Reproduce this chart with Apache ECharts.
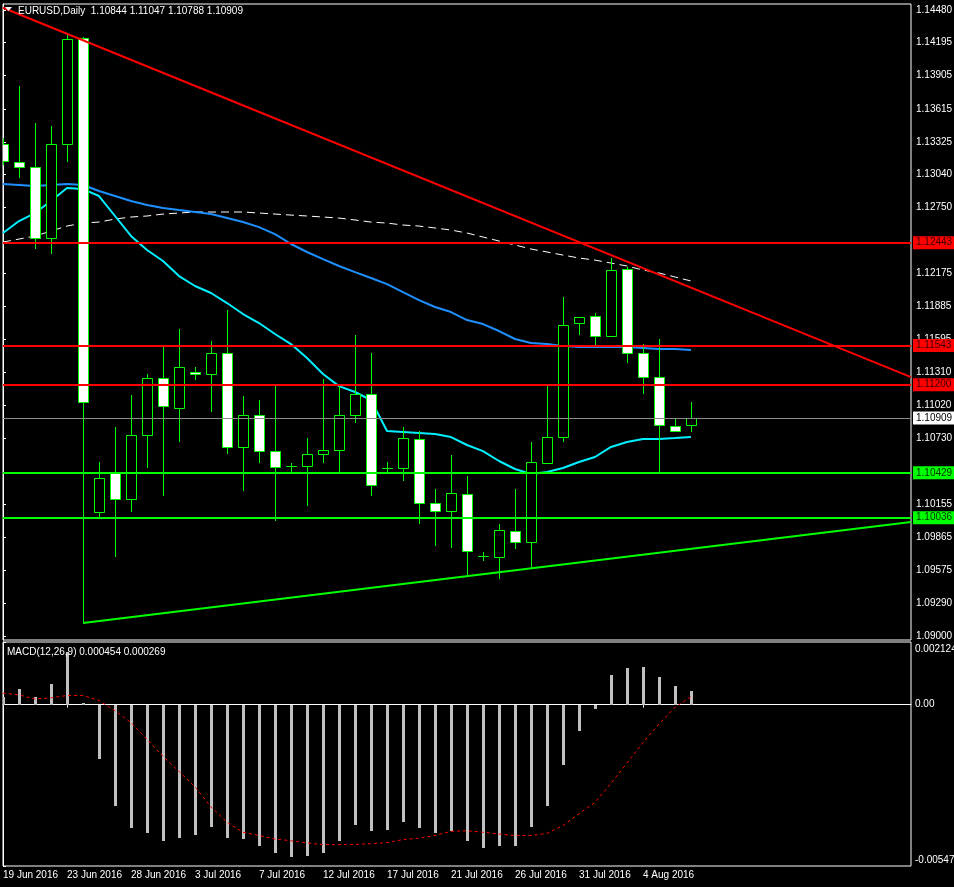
<!DOCTYPE html>
<html>
<head>
<meta charset="utf-8">
<script src="https://cdn.jsdelivr.net/npm/echarts@6/dist/echarts.min.js"></script>
<style>
html,body{margin:0;padding:0;background:#000;}
#chart{width:954px;height:887px;}
</style>
</head>
<body>
<div id="chart"></div>
<script>
const symbolName = 'EURUSD,Daily';
const dates = ['19 Jun 2016','20 Jun 2016','21 Jun 2016','22 Jun 2016','23 Jun 2016','24 Jun 2016','26 Jun 2016','27 Jun 2016','28 Jun 2016','29 Jun 2016','30 Jun 2016','1 Jul 2016','3 Jul 2016','4 Jul 2016','5 Jul 2016','6 Jul 2016','7 Jul 2016','8 Jul 2016','10 Jul 2016','11 Jul 2016','12 Jul 2016','13 Jul 2016','14 Jul 2016','15 Jul 2016','17 Jul 2016','18 Jul 2016','19 Jul 2016','20 Jul 2016','21 Jul 2016','22 Jul 2016','24 Jul 2016','25 Jul 2016','26 Jul 2016','27 Jul 2016','28 Jul 2016','29 Jul 2016','31 Jul 2016','1 Aug 2016','2 Aug 2016','3 Aug 2016','4 Aug 2016','5 Aug 2016','7 Aug 2016','8 Aug 2016'];
const opens  = [1.13307,1.13152,1.13103,1.12481,1.13304,1.14232,1.10083,1.10438,1.10197,1.10762,1.11256,1.10993,1.11314,1.11291,1.11475,1.10652,1.10932,1.10617,1.10490,1.10486,1.10590,1.10625,1.10932,1.11116,1.10473,1.10468,1.10722,1.10162,1.10091,1.10240,1.09697,1.09694,1.09916,1.09825,1.10517,1.10739,1.11737,1.11799,1.11623,1.12213,1.11475,1.11265,1.10836,1.10844];
const highs  = [1.13359,1.13815,1.13488,1.13465,1.14276,1.14240,1.10520,1.10829,1.11107,1.11293,1.11530,1.11687,1.11355,1.11582,1.11854,1.11098,1.11066,1.11197,1.10514,1.10733,1.11250,1.11195,1.11635,1.11477,1.10520,1.10829,1.10794,1.10287,1.10584,1.10401,1.09733,1.09978,1.10287,1.10696,1.11188,1.11968,1.11795,1.11825,1.12309,1.12230,1.11553,1.11597,1.10906,1.11047];
const lows   = [1.13123,1.13009,1.12390,1.12347,1.13152,1.09111,1.10035,1.09694,1.10088,1.10473,1.10228,1.10701,1.11244,1.10963,1.10596,1.10272,1.10512,1.10009,1.10427,1.10141,1.10512,1.10424,1.10867,1.10228,1.10427,1.10360,1.09983,1.09790,1.09773,1.09537,1.09656,1.09499,1.09764,1.09592,1.10508,1.10701,1.11635,1.11532,1.11615,1.11392,1.11121,1.10438,1.10783,1.10788];
const closes = [1.13158,1.13106,1.12481,1.13304,1.14224,1.11046,1.10380,1.10197,1.10757,1.11256,1.11016,1.11352,1.11291,1.11475,1.10652,1.10932,1.10617,1.10477,1.10492,1.10590,1.10625,1.10932,1.11116,1.10319,1.10475,1.10731,1.10162,1.10091,1.10249,1.09741,1.09699,1.09925,1.09825,1.10520,1.10739,1.11720,1.11790,1.11623,1.12204,1.11475,1.11265,1.10844,1.10792,1.10909];
const maFast = [1.12528,1.12633,1.12703,1.12808,1.12922,1.12913,1.12852,1.12677,1.12502,1.12379,1.12283,1.12151,1.12064,1.12003,1.11915,1.11819,1.11740,1.11644,1.11556,1.11434,1.11294,1.11188,1.11136,1.11066,1.10795,1.10786,1.10777,1.10768,1.10742,1.10672,1.10619,1.10532,1.10462,1.10418,1.10436,1.10471,1.10523,1.10567,1.10655,1.10698,1.10725,1.10725,1.10733,1.10742];
const maMid  = [1.12957,1.12948,1.12939,1.12948,1.12957,1.12948,1.12896,1.12852,1.12808,1.12773,1.12747,1.12729,1.12712,1.12694,1.12659,1.12624,1.12580,1.12519,1.12432,1.12362,1.12300,1.12239,1.12186,1.12134,1.12081,1.12011,1.11941,1.11880,1.11836,1.11766,1.11731,1.11670,1.11600,1.11565,1.11556,1.11539,1.11530,1.11530,1.11530,1.11530,1.11521,1.11512,1.11512,1.11504];
const maSlow = [1.12449,1.12475,1.12502,1.12545,1.12589,1.12615,1.12624,1.12650,1.12668,1.12677,1.12694,1.12703,1.12712,1.12712,1.12712,1.12712,1.12703,1.12694,1.12685,1.12677,1.12668,1.12659,1.12642,1.12624,1.12615,1.12598,1.12589,1.12572,1.12554,1.12528,1.12493,1.12458,1.12423,1.12388,1.12362,1.12335,1.12309,1.12291,1.12265,1.12239,1.12204,1.12178,1.12143,1.12108];
const macdHist = [0.00025,0.00054,0.00025,0.00071,0.00180,0.00006,-0.00185,-0.00344,-0.00420,-0.00437,-0.00464,-0.00451,-0.00444,-0.00416,-0.00454,-0.00457,-0.00481,-0.00505,-0.00516,-0.00512,-0.00502,-0.00461,-0.00409,-0.00430,-0.00426,-0.00399,-0.00420,-0.00437,-0.00430,-0.00461,-0.00485,-0.00481,-0.00478,-0.00416,-0.00344,-0.00206,-0.00089,-0.00014,0.00099,0.00123,0.00126,0.00092,0.00064,0.000454];
const macdSignal = [0.00039,0.00033,0.00019,0.00023,0.00031,0.00031,0.00014,-0.00021,-0.00061,-0.00118,-0.00175,-0.00227,-0.00279,-0.00347,-0.00399,-0.00433,-0.00444,-0.00456,-0.00462,-0.00469,-0.00475,-0.00475,-0.00474,-0.00472,-0.00468,-0.00458,-0.00453,-0.00444,-0.00430,-0.00428,-0.00433,-0.00439,-0.00444,-0.00444,-0.00437,-0.00410,-0.00370,-0.00332,-0.00267,-0.00198,-0.00129,-0.00066,-0.00009,0.000269];
const resistanceLevels = [1.12443, 1.11543, 1.11200];
const supportLevels = [1.10429, 1.10036];
const bidLevel = 1.10909;
const trendDown = [[0, 1.14500], [56.75, 1.11267]];
const trendUp = [[5, 1.09114], [56.75, 1.09998]];
const priceTicks = [1.14480,1.14195,1.13905,1.13615,1.13325,1.13040,1.12750,1.12175,1.11885,1.11595,1.11310,1.11020,1.10730,1.10155,1.09865,1.09575,1.09290,1.09000];
const macdTicks = [0.002124, 0, -0.005475];
const dateTickEvery = 4;

const FONT = "'Liberation Sans', Arial, sans-serif";
const FS = 10;
const n = dates.length;
const dateTicks = [];
for (let i = 0; i < n; i += dateTickEvery) dateTicks.push(i);
const last = n - 1;
const headerText = symbolName + '  ' + [opens[last], highs[last], lows[last], closes[last]].map(v => v.toFixed(5)).join(' ');
const macdText = 'MACD(12,26,9) ' + macdHist[last].toFixed(6) + ' ' + macdSignal[last].toFixed(6);

const candleData = opens.map((o, i) => [i, o, closes[i], lows[i], highs[i]]);
const toXY = arr => arr.map((v, i) => [i, v]);

function renderCandle(params, api) {
  const i = api.value(0), o = api.value(1), c = api.value(2), l = api.value(3), h = api.value(4);
  const po = api.coord([i, o]), pc = api.coord([i, c]), pl = api.coord([i, l]), ph = api.coord([i, h]);
  const x = Math.round(po[0]);
  const top = Math.round(Math.min(po[1], pc[1]));
  const bot = Math.round(Math.max(po[1], pc[1]));
  const bull = c >= o;
  return {
    type: 'group',
    children: [
      {type: 'line', shape: {x1: x + 0.5, y1: Math.round(ph[1]), x2: x + 0.5, y2: Math.round(pl[1])}, style: {stroke: '#00ff00', lineWidth: 1}},
      {type: 'rect', shape: {x: x - 4.5, y: top + 0.5, width: 10, height: Math.max(0, bot - top)}, style: {fill: bull ? '#000000' : '#ffffff', stroke: '#00ff00', lineWidth: 1}}
    ]
  };
}
function renderHist(params, api) {
  const i = api.value(0), v = api.value(1);
  const p0 = api.coord([i, 0]), p1 = api.coord([i, v]);
  const x = Math.round(p0[0]);
  const y0 = Math.round(Math.min(p0[1], p1[1]));
  const y1 = Math.round(Math.max(p0[1], p1[1]));
  return {type: 'rect', shape: {x: x - 1, y: y0, width: 3, height: Math.max(1, y1 - y0)}, style: {fill: '#c0c0c0'}};
}
function levelLabel(bg, fg) {
  return {show: true, position: 'end', distance: 2, formatter: p => Number(p.value).toFixed(5),
    backgroundColor: bg, color: fg, fontSize: FS, fontFamily: FONT, padding: [2, 3, 1, 3]};
}

const chart = echarts.init(document.getElementById('chart'), null, {renderer: 'canvas'});
chart.setOption({
  backgroundColor: '#000000',
  animation: false,
  textStyle: {fontFamily: FONT},
  grid: [
    {left: 3, top: 4, width: 908, height: 636, show: true, borderColor: '#ffffff', borderWidth: 1, backgroundColor: 'transparent', outerBoundsMode: 'none', containLabel: false},
    {left: 3, top: 642, width: 908, height: 224, show: true, borderColor: '#ffffff', borderWidth: 1, backgroundColor: 'transparent', outerBoundsMode: 'none', containLabel: false}
  ],
  xAxis: [
    {type: 'value', gridIndex: 0, min: 0, max: 56.75, show: false},
    {type: 'value', gridIndex: 1, min: 0, max: 56.75, splitLine: {show: false},
      axisLine: {show: true, lineStyle: {color: '#ffffff'}},
      axisTick: {show: true, customValues: dateTicks, length: 3, lineStyle: {color: '#ffffff'}},
      axisLabel: {customValues: dateTicks, formatter: v => dates[Math.round(v)] || '', color: '#ffffff', fontSize: FS, fontFamily: FONT, align: 'left', margin: 4}}
  ],
  yAxis: [
    {type: 'value', gridIndex: 0, position: 'right', min: 1.08965, max: 1.14533, splitLine: {show: false},
      axisLine: {show: true, lineStyle: {color: '#ffffff'}},
      axisTick: {show: true, customValues: priceTicks, length: 3, lineStyle: {color: '#ffffff'}},
      axisLabel: {customValues: priceTicks, formatter: v => v.toFixed(5), color: '#ffffff', fontSize: FS, fontFamily: FONT, margin: 5}},
    {type: 'value', gridIndex: 1, position: 'right', min: -0.005475, max: 0.002124, splitLine: {show: false},
      axisLine: {show: true, lineStyle: {color: '#ffffff'}},
      axisTick: {show: true, customValues: macdTicks, length: 3, lineStyle: {color: '#ffffff'}},
      axisLabel: {customValues: macdTicks, color: '#ffffff', fontSize: FS, fontFamily: FONT, margin: 4,
        formatter: v => v === 0 ? '0.00' : (v > 0 ? '{t|' + v + '}' : '{b|' + v + '}'),
        rich: {t: {padding: [15, 0, 0, 0], color: '#ffffff', fontSize: FS, fontFamily: FONT}, b: {padding: [0, 0, 11, 0], color: '#ffffff', fontSize: FS, fontFamily: FONT}}}}
  ],
  graphic: [
    {type: 'polygon', shape: {points: [[5, 7], [12, 7], [8.5, 11]]}, style: {fill: '#ffffff'}, z: 100},
    {type: 'text', x: 18, y: 6, style: {text: headerText, fill: '#ffffff', font: FS + 'px ' + FONT}, z: 100},
    {type: 'text', x: 7, y: 647, style: {text: macdText, fill: '#ffffff', font: FS + 'px ' + FONT}, z: 100}
  ],
  series: [
    {type: 'line', name: 'MA slow', xAxisIndex: 0, yAxisIndex: 0, data: toXY(maSlow), showSymbol: false, silent: true, z: 1,
      lineStyle: {color: '#ffffff', width: 1, type: [8, 5]}},
    {type: 'line', name: 'MA mid', xAxisIndex: 0, yAxisIndex: 0, data: toXY(maMid), showSymbol: false, silent: true, z: 1,
      lineStyle: {color: '#1e90ff', width: 2}},
    {type: 'line', name: 'MA fast', xAxisIndex: 0, yAxisIndex: 0, data: toXY(maFast), showSymbol: false, silent: true, z: 1,
      lineStyle: {color: '#00f0ff', width: 2}},
    {type: 'custom', name: 'EURUSD', xAxisIndex: 0, yAxisIndex: 0, data: candleData, renderItem: renderCandle,
      encode: {x: 0, y: [1, 2, 3, 4]}, clip: true, silent: true, z: 2},
    {type: 'line', name: 'Downtrend', xAxisIndex: 0, yAxisIndex: 0, data: trendDown, showSymbol: false, silent: true, z: 4,
      lineStyle: {color: '#ff0000', width: 2},
      markLine: {silent: true, symbol: ['none', 'none'], animation: false, precision: 5,
        lineStyle: {color: '#ff0000', width: 2, type: 'solid'}, label: levelLabel('#ff0000', '#3a0000'),
        data: resistanceLevels.map(v => ({yAxis: v})).concat([{yAxis: bidLevel,
          lineStyle: {color: '#8c8c8c', width: 1, type: 'solid'}, label: levelLabel('#ffffff', '#000000')}])}},
    {type: 'line', name: 'Uptrend', xAxisIndex: 0, yAxisIndex: 0, data: trendUp, showSymbol: false, silent: true, z: 4,
      lineStyle: {color: '#00ff00', width: 2},
      markLine: {silent: true, symbol: ['none', 'none'], animation: false, precision: 5,
        lineStyle: {color: '#00ff00', width: 2, type: 'solid'}, label: levelLabel('#00ff00', '#003000'),
        data: supportLevels.map(v => ({yAxis: v}))}},
    {type: 'custom', name: 'MACD', xAxisIndex: 1, yAxisIndex: 1, data: toXY(macdHist), renderItem: renderHist,
      encode: {x: 0, y: 1}, clip: true, silent: true, z: 2},
    {type: 'line', name: 'Signal', xAxisIndex: 1, yAxisIndex: 1, data: toXY(macdSignal), showSymbol: false, silent: true, z: 3,
      lineStyle: {color: '#ff0000', width: 1, type: [3, 3]}}
  ]
});
</script>
</body>
</html>
